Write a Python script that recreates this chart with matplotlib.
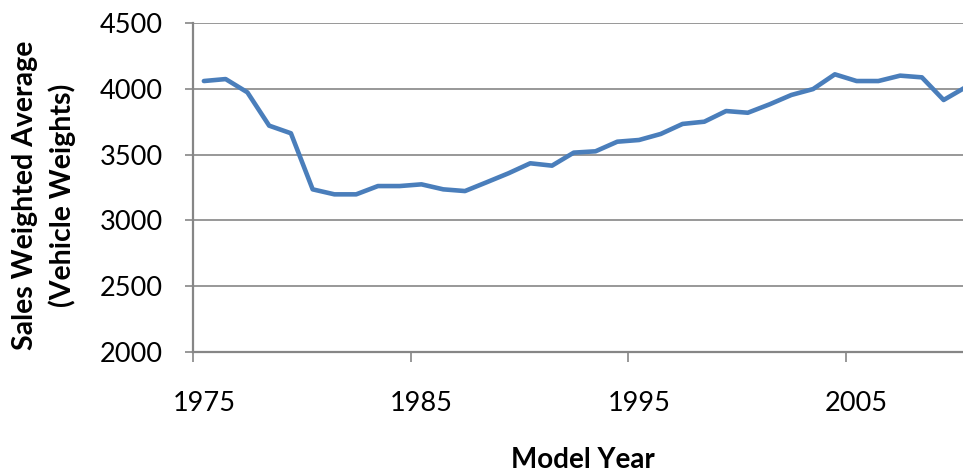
import matplotlib
matplotlib.use("Agg")
import matplotlib.pyplot as plt
import numpy as np

years = list(range(1975, 2011))
weights = [4059, 4074, 3973, 3720, 3662, 3236, 3198, 3198, 3261, 3261,
           3274, 3236, 3223, 3290, 3358, 3434, 3416, 3515, 3525, 3598,
           3611, 3657, 3733, 3750, 3831, 3818, 3882, 3953, 3998, 4110,
           4059, 4059, 4100, 4087, 3915, 4011]
xtick_labels = ["1975", "1985", "1995", "2005"]
yticks = [2000, 2500, 3000, 3500, 4000, 4500]

plt.rcParams['font.family'] = ['Lato', 'DejaVu Sans']

W, H = 963, 475
fig = plt.figure(figsize=(W / 100, H / 100), dpi=100)
ax = fig.add_axes([193 / W, 1 - 352 / H, 1 - 193 / W, (352 - 23) / H])

ax.plot(years, weights, color='#4A7EBB', lw=3.3, solid_joinstyle='round',
        solid_capstyle='round', zorder=3)

ax.set_xlim(1974.5, 2009.89)
ax.set_ylim(2000, 4500)

gray = '#868686'
ax.set_yticks(yticks)
ax.set_yticklabels([str(v) for v in yticks], fontsize=19.5)
ax.yaxis.grid(True, color=gray, lw=1.2)
ax.set_axisbelow(True)

# category boundaries as tick marks, labels at category centres
label_years = [int(s) for s in xtick_labels]
ax.set_xticks([y - 0.5 for y in label_years])
ax.set_xticklabels([])
ax.set_xticks(label_years, minor=True)
ax.set_xticklabels(xtick_labels, minor=True, fontsize=19.5)
ax.tick_params(axis='x', which='minor', length=0, pad=28)
ax.tick_params(axis='x', which='major', length=7, width=1.2, color=gray)
ax.tick_params(axis='y', length=6, width=1.2, color=gray, pad=16)

for s in ['top', 'right']:
    ax.spines[s].set_visible(False)
for s in ['left', 'bottom']:
    ax.spines[s].set_color(gray)
    ax.spines[s].set_linewidth(1.6)

fig.text(583 / W, 1 - 460 / H, "Model Year", ha='center', va='center',
         fontsize=20, fontweight='bold')
fig.text(25 / W, 1 - 195 / H, "Sales Weighted Average", rotation=90,
         ha='center', va='center', fontsize=20.5, fontweight='bold')
fig.text(62 / W, 1 - 195 / H, "(Vehicle Weights)", rotation=90,
         ha='center', va='center', fontsize=20.5, fontweight='bold')

fig.savefig("out.png", dpi=100)
